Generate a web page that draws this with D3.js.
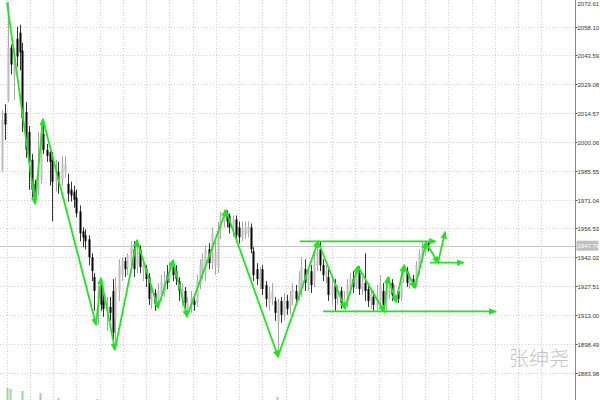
<!DOCTYPE html>
<html><head><meta charset="utf-8">
<script src="https://cdn.jsdelivr.net/npm/d3@7"></script>
<style>html,body{margin:0;padding:0;background:#fff;}svg{display:block;}</style>
</head><body>
<svg id="chart" width="600" height="400"></svg>
<script>
// ---- data ----
const open  = [1986,2014.5,2021.4,2047.5,2033,2052,2055,2046,2015,2005,1991,1979,1975,1981,2004,1996,1995,1991,1980,1985,1981,1985,1979,1976,1975,1972,1965,1955,1953,1951,1942,1932,1921,1929,1920,1915,1917,1925,1911,1925,1933,1940,1937,1938,1946,1938,1946,1935,1936,1932,1919,1924,1920,1923,1924,1933,1931,1937,1935,1930,1921,1925,1915,1917,1920,1919,1929,1934,1933,1946,1939,1938,1937,1955,1960,1964,1963,1956,1961,1957,1952,1953,1954,1957,1945,1936,1930,1936,1928,1919,1921,1920,1909,1920,1913,1920,1917,1921,1925,1923,1926,1936,1928,1935,1930,1938,1946,1938,1932,1932,1923,1928,1921,1925,1919,1919,1926,1931,1928,1934,1926,1929,1926,1919,1922,1917,1920,1925,1917,1924,1929,1921,1925,1922,1931,1935,1928,1931,1929,1936,1942,1946,1949];
const high  = [2016,2019,2070.5,2049,2047,2058,2059,2050,2020,2008,1994,1981,2005,2010,2011,1999,1998,1995,1991,1990,1993,1993,1984,1980,1978,1976,1968,1957,1956,1953,1944,1934,1928,1931,1923,1922,1922,1931,1932,1941,1942,1942,1944,1950,1950,1950.5,1948,1941,1938,1934,1927,1926,1929,1933,1935,1938,1940,1940.3,1938,1932,1929,1927,1922,1925,1923,1933,1941,1944,1948,1949,1957,1950,1960,1965,1966,1965.5,1964,1963,1963,1960,1960,1960,1960,1959,1947,1939,1937,1938,1930,1927,1929,1922,1921,1922,1924,1923,1925,1929,1928,1935,1942,1941,1937,1938,1944,1949,1950,1941,1938,1936,1931,1931,1928,1927,1925,1931,1934,1935,1937,1937.3,1932,1944,1929,1926,1925,1928,1933,1929,1929,1932,1931,1928,1927,1936,1938,1937,1934,1933,1940,1946,1950,1950,1949.5];
const low   = [1985,2001,2020,2034,2021,2038,2036,2005,1992,1976,1972,1969,1973,1979,1994,1990,1978,1960,1975,1974,1978,1982,1970,1970,1967,1962,1950,1947,1946,1938,1930,1915,1908,1915,1912,1905,1910,1896,1895.5,1920,1930,1932,1933,1935,1932,1934,1934,1930,1927,1918,1916,1915,1916.5,1920,1922,1926,1929,1930,1928,1920,1917,1915,1912.2,1914,1915,1917,1926,1931,1930,1936,1936,1933,1934,1951,1957,1957,1954,1952,1950,1949,1950,1951,1952,1944,1930,1928,1926,1923,1917,1915,1918,1910,1892,1909,1910,1913,1913,1918,1918,1920,1922,1925,1925,1924,1927,1935,1935,1930,1929,1920,1918,1915,1918,1916,1916.2,1916.5,1923,1924,1926,1923,1923,1920,1917,1916,1915,1915,1916,1915,1914.7,1921,1920,1919.7,1919,1920,1929,1927,1926,1926.7,1927,1933,1939,1943,1945];
const close = [2011,2008.8,2047.5,2039,2043,2043,2045,2012,1996,1990,1976,1972,1983,2005,1996,1993,1990,1980,1986,1981,1989,1989,1974,1973,1971,1964,1954,1952,1950,1942,1935,1925,1924,1918,1916,1918,1914,1904,1927,1938,1940,1936,1943,1947,1936,1945,1937,1938,1931,1921,1924,1919,1925,1930,1929,1929,1936,1933,1931,1925,1926,1919,1919,1922,1918,1930,1938,1941,1946,1939,1954,1944,1955,1963,1964,1960,1957,1961,1953,1952,1956,1957,1957.5,1946,1933,1931,1934,1926,1921,1924,1925,1914,1919,1913,1920,1916,1922,1926,1921,1931,1937,1929,1934,1928,1940,1945,1938,1933,1935,1923,1927,1921,1925,1919,1921,1928,1931,1927,1934,1926,1929,1925,1920,1923,1918,1922,1928,1918,1925,1930,1923,1925,1921,1933,1936,1929,1931,1928,1938,1944,1947,1949,1947.8];

// visible volume bars (bar index, volume units)
const volIndex = [2, 3, 7, 13, 19, 32, 92];
const volValue = [12, 11, 9, 7, 2, 1, 3];

// price-axis tick labels
const yTicks = [2072.61, 2058.10, 2043.59, 2029.08, 2014.57, 2000.06, 1985.55, 1971.04, 1956.53, 1942.02, 1927.51, 1913.00, 1898.49, 1883.98];
const lastPrice = 1947.79;

// hand-drawn analysis: zigzag (bar index, price)
const zigIdx   = [1.83, 11.17, 13.83, 31.5, 33.17, 37.83, 45.17, 52.17, 57.17, 61.83, 74.83, 92.17, 105.5, 114.5, 118.83, 127.5, 128.83, 131.5, 134.17, 137.83, 141.5, 145.5, 147.83];
const zigPrice = [2070.2, 1969.0, 2011.3, 1908.1, 1931.3, 1895.5, 1950.4, 1916.7, 1940.3, 1912.2, 1965.5, 1892.0, 1949.9, 1916.2, 1937.3, 1914.7, 1931.8, 1919.7, 1937.8, 1926.7, 1949.4, 1939.3, 1954.4];
// horizontal arrows: [startIdx, endIdx, price]
const hStart = [99.5, 107.2, 142.8];
const hEnd   = [144.5, 164.5, 153.8];
const hPrice = [1950.0, 1914.7, 1939.3];

const watermark = "张绅尧";

// ---- drawing ----
const W = 600, H = 400, axisX = 575.5;
const svg = d3.select("#chart");
const x = d3.scaleLinear().domain([0, 142]).range([1.5, 427.5]);
const y = d3.scaleLinear().domain([1883.98, 2058.10]).range([372.5, 26.5]);
const vol = d3.scaleLinear().domain([0, 12]).range([400, 388]);
const green = "#1ee61e";
const labelFont = "'Liberation Sans', Arial, sans-serif";

const defs = svg.append("defs");
defs.append("clipPath").attr("id","plot").append("rect").attr("x",0).attr("y",0).attr("width",axisX).attr("height",H);
defs.append("marker").attr("id","arr").attr("markerUnits","userSpaceOnUse")
  .attr("viewBox","0 -4 8 8").attr("refX",6).attr("refY",0)
  .attr("markerWidth",8).attr("markerHeight",8).attr("orient","auto")
  .append("path").attr("d","M0,-3.2L8,0L0,3.2Z").attr("fill",green);

// grid
const g = svg.append("g").attr("clip-path","url(#plot)");
const gridBars = d3.range(0, 24).map(k => 1.667 + 7.75 * k);
g.selectAll(".vg").data(gridBars).join("line")
  .attr("x1", d => Math.round(x(d)) + 0.5).attr("x2", d => Math.round(x(d)) + 0.5)
  .attr("y1", 0).attr("y2", H)
  .attr("stroke", "#cfcfcf").attr("stroke-dasharray", "1,2");
g.selectAll(".hg").data(yTicks).join("line")
  .attr("x1", 0).attr("x2", axisX)
  .attr("y1", d => Math.round(y(d)) + 0.5).attr("y2", d => Math.round(y(d)) + 0.5)
  .attr("stroke", "#cfcfcf").attr("stroke-dasharray", "1,2");

// last price line
g.append("line").attr("x1",0).attr("x2",axisX)
  .attr("y1", Math.round(y(lastPrice)) + 0.5).attr("y2", Math.round(y(lastPrice)) + 0.5)
  .attr("stroke","#c8c8c8").attr("stroke-width",1);

// volumes
g.selectAll(".vol").data(volIndex).join("rect")
  .attr("x", d => x(d) - 1).attr("width", 2)
  .attr("y", (d,i) => vol(volValue[i])).attr("height", (d,i) => 400 - vol(volValue[i]))
  .attr("fill", "#9fd49f");

// candles
const idx = d3.range(open.length);
const cg = g.append("g");
cg.selectAll(".wick").data(idx).join("line")
  .attr("x1", i => Math.round(x(i)) + 0.5).attr("x2", i => Math.round(x(i)) + 0.5)
  .attr("y1", i => y(high[i])).attr("y2", i => y(low[i]))
  .attr("stroke", i => close[i] >= open[i] ? "#a8a8a8" : "#333").attr("stroke-width", 1);
cg.selectAll(".body").data(idx).join("rect")
  .attr("x", i => Math.round(x(i)) - 0.5).attr("width", 2)
  .attr("y", i => y(Math.max(open[i], close[i])))
  .attr("height", i => Math.max(1, Math.abs(y(open[i]) - y(close[i]))))
  .attr("fill", i => close[i] >= open[i] ? "#bdbdbd" : "#000");

// zigzag arrows
const zg = g.append("g");
d3.range(zigIdx.length - 1).forEach(k => {
  zg.append("line")
    .attr("x1", x(zigIdx[k])).attr("y1", y(zigPrice[k]))
    .attr("x2", x(zigIdx[k+1])).attr("y2", y(zigPrice[k+1]))
    .attr("stroke", green).attr("stroke-width", 1.8).attr("marker-end","url(#arr)");
});
hStart.forEach((s,k) => {
  zg.append("line")
    .attr("x1", x(s)).attr("y1", y(hPrice[k]))
    .attr("x2", x(hEnd[k])).attr("y2", y(hPrice[k]))
    .attr("stroke", green).attr("stroke-width", 1.8).attr("marker-end","url(#arr)");
});

// watermark
svg.append("text").attr("x", 509).attr("y", 366)
  .attr("font-family", "'Noto Sans CJK SC', sans-serif").attr("font-size", 20)
  .attr("font-weight", 300)
  .attr("fill", "#c4c4c4").text(watermark);

// price axis
svg.append("line").attr("x1",axisX).attr("x2",axisX).attr("y1",0).attr("y2",H)
  .attr("stroke","#8a8a8a").attr("stroke-width",1);
const ax = svg.append("g");
yTicks.forEach(t => {
  const yy = Math.round(y(t)) + 0.5;
  ax.append("line").attr("x1",axisX).attr("x2",axisX+2).attr("y1",yy).attr("y2",yy).attr("stroke","#555");
  ax.append("text").attr("x", axisX + 2).attr("y", Math.max(yy + 2.5, 6))
    .attr("font-family", labelFont).attr("font-size", 6)
    .attr("fill","#333").text(t.toFixed(2));
});
const ly = y(lastPrice);
ax.append("rect").attr("x", axisX + 1).attr("y", ly - 5).attr("width", 22).attr("height", 10).attr("fill", "#c0c0c0");
ax.append("text").attr("x", axisX + 2).attr("y", ly + 2.5)
  .attr("font-family", labelFont).attr("font-size", 6)
  .attr("fill","#fff").text(lastPrice.toFixed(2));
</script>
</body></html>
